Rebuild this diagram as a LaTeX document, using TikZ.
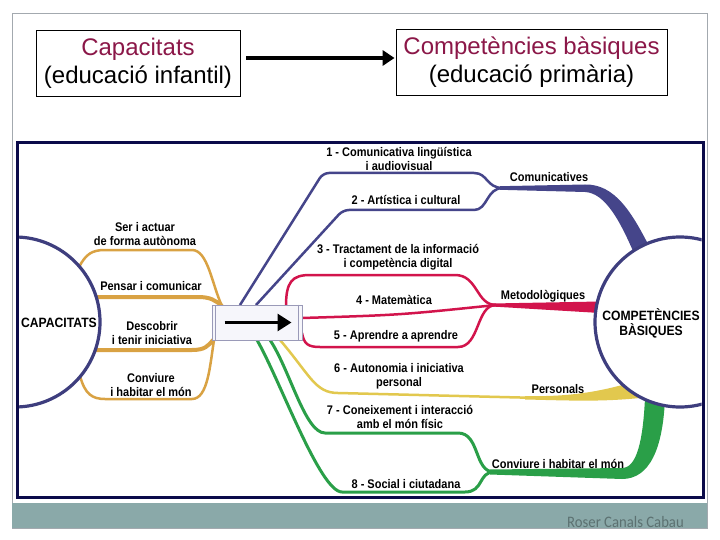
\documentclass[tikz,border=0pt]{standalone}
\usepackage{fontspec}
\setmainfont{Liberation Sans}
\newfontfamily\labfont[FakeStretch=0.88]{Liberation Sans}
\newfontfamily\circfont[FakeStretch=0.9]{Liberation Sans}
\newfontfamily\footfont[FakeStretch=0.92]{Carlito}
\usetikzlibrary{arrows.meta}
\definecolor{cnavy}{HTML}{3E3E7E}
\definecolor{cblue}{HTML}{45458A}
\definecolor{cred}{HTML}{D2144C}
\definecolor{corange}{HTML}{D9A243}
\definecolor{cyellow}{HTML}{E2C84E}
\definecolor{cgreen}{HTML}{2A9F48}
\definecolor{cborder}{HTML}{0B0B4A}
\definecolor{maroon}{HTML}{8B1748}
\definecolor{bandc}{HTML}{8AA9A9}
\definecolor{footc}{HTML}{5C7171}
\definecolor{framec}{HTML}{A3A9AF}
\definecolor{boxc}{HTML}{9A9AB8}
\definecolor{boxfill}{HTML}{F6F6FB}
\tikzset{
  lab/.style={font=\labfont\bfseries\fontsize{12.5}{14}\selectfont, inner sep=0, align=center},
  circlab/.style={font=\circfont\bfseries\fontsize{13.5}{15}\selectfont, inner sep=0, align=center},
  tbox/.style={draw, line width=0.8, minimum height=66, inner sep=0, align=center, font=\fontsize{24}{28}\selectfont},
  thin/.style={line width=2.5},
}
\begin{document}
\begin{tikzpicture}[x=1pt,y=-1pt]
\useasboundingbox (0,0) rectangle (720,540);
\fill[white] (0,0) rectangle (720,540);
% slide frame
\draw[framec, line width=0.8] (12,13) rectangle (707,528);
\fill[bandc] (12,503) rectangle (707,528);
\node[font=\footfont\fontsize{16}{16}\selectfont, text=footc, anchor=east, inner sep=0] (foot) at (684,522) {Roser Canals Cabau};

% title boxes
\node[tbox, minimum width=204] (b1) at (138,63) {\textcolor{maroon}{Capacitats}\\(educació infantil)};
\node[tbox, minimum width=271] (b2) at (531.5,62.5) {\textcolor{maroon}{Competències bàsiques}\\(educació primària)};
\draw[line width=3.5, -{Triangle[length=12pt,width=15pt]}] ([shift={(6,-5)}]b1.east) -- ([shift={(-1,-4.5)}]b2.west);

% picture area
\fill[white] (17,143) rectangle (703,497);
\begin{scope}
\clip (18.5,144.5) rectangle (701.5,495.5);
% thick bands
\fill[cblue] (500,186.2) -- (585,184.5) .. controls (615,184) and (632,212) .. (652,252) -- (636,258) .. controls (620,220) and (605,193) .. (585,192) -- (500,189.8) -- cycle;
\fill[cred] (492,303.5) -- (600,301.5) -- (600,313) -- (492,306.5) -- cycle;
\fill[cyellow] (525,396) .. controls (570,397) and (600,392) .. (640,380) -- (640,398) .. controls (600,402) and (570,400.5) .. (525,399.5) -- cycle;
\fill[cgreen] (490,469.5) -- (622,468) .. controls (637,468) and (643,440) .. (645,398) -- (665,398) .. controls (663,448) and (650,479) .. (622,479) -- (490,474.5) -- cycle;

% blue branches
\draw[cblue, thin, rounded corners=6] (240,305) -- (323,173) -- (468,173) .. controls (488,173) and (486,188) .. (503,188);
\draw[cblue, thin, rounded corners=6] (256,305) -- (343,210) -- (468,210) .. controls (488,210) and (486,188) .. (503,188);
% red branches
\draw[cred, thin] (286,306) .. controls (286,282) and (292,275) .. (310,275) -- (455,275) .. controls (478,275) and (476,305) .. (496,305);
\draw[cred, thin] (302,318) .. controls (400,315) .. (496,305);
\draw[cred, thin] (302,333) .. controls (304,344) and (308,347) .. (320,347) -- (458,347) .. controls (480,347) and (476,305) .. (496,305);
% yellow branch
\draw[cyellow, thin] (280,340) .. controls (310,375) and (315,393) .. (338,393) -- (528,397.7);
% green branches
\draw[cgreen, line width=3] (270,340) .. controls (290,370) and (305,433) .. (325,433) -- (458,433) .. controls (480,433) and (474,472) .. (494,472);
\draw[cgreen, line width=3] (257,340) .. controls (280,380) and (320,492) .. (342,492) -- (465,492) .. controls (484,492) and (478,472) .. (494,472);

% orange branches
\draw[corange, thin] (79,267) .. controls (86,254) and (92,250) .. (105,250) -- (192,250) .. controls (208,250) and (212,285) .. (222,306);
\draw[corange, line width=4] (95,297) -- (198,297) .. controls (210,297) and (215,300) .. (222,306);
\draw[corange, line width=4] (95,350) -- (192,350) .. controls (205,350) and (208,346) .. (213,340);
\draw[corange, thin] (80,376) .. controls (85,394) and (92,399) .. (105,399) -- (192,399) .. controls (208,399) and (210,365) .. (214,340);

% circles
\draw[cnavy, line width=3.2, fill=white] (15,322) circle[radius=85pt];
\draw[cnavy, line width=3.2, fill=white] (680,322) circle[radius=85pt];
\end{scope}

% arrow box
\node[draw=boxc, fill=boxfill, line width=1, minimum width=90, minimum height=35, inner sep=0] (abox) at (257,322.5) {};
\draw[boxc, line width=0.8] ([xshift=4pt]abox.north west) -- ([xshift=4pt]abox.south west);
\draw[boxc, line width=0.8] ([xshift=-4pt]abox.north east) -- ([xshift=-4pt]abox.south east);
\draw[line width=3, -{Triangle[length=14pt,width=17pt]}] ([xshift=13pt]abox.west) -- ([xshift=-11pt]abox.east);

% circle labels
\node[circlab] (cap) at (59,323) {CAPACITATS};
\node[circlab] (comp) at (651,323.5) {COMPETÈNCIES\\BÀSIQUES};

% left labels
\node[lab] (l1) at (145,234) {Ser i actuar\\de forma autònoma};
\node[lab] (l2) at (151,286) {Pensar i comunicar};
\node[lab] (l3) at (152,333) {Descobrir\\i tenir iniciativa};
\node[lab] (l4) at (151,385) {Conviure\\i habitar el món};

% middle labels
\node[lab] (m1) at (399,158.5) {1 - Comunicativa lingüística\\i audiovisual};
\node[lab] (m2) at (406,200) {2 - Artística i cultural};
\node[lab] (m3) at (398,257) {3 - Tractament de la informació\\i competència digital};
\node[lab] (m4) at (394,300) {4 - Matemàtica};
\node[lab] (m5) at (396,336) {5 - Aprendre a aprendre};
\node[lab] (m6) at (399,376.5) {6 - Autonomia i iniciativa\\personal};
\node[lab] (m7) at (400,417) {7 - Coneixement i interacció\\amb el món físic};
\node[lab] (m8) at (406,484) {8 - Social i ciutadana};

% right labels
\node[lab] (r1) at (549,177) {Comunicatives};
\node[lab] (r2) at (543,296) {Metodològiques};
\node[lab] (r3) at (558,389) {Personals};
\node[lab] (r4) at (558,464) {Conviure i habitar el món};

% picture border
\draw[cborder, line width=3] (17,143) rectangle (703,497);
\end{tikzpicture}
\end{document}
